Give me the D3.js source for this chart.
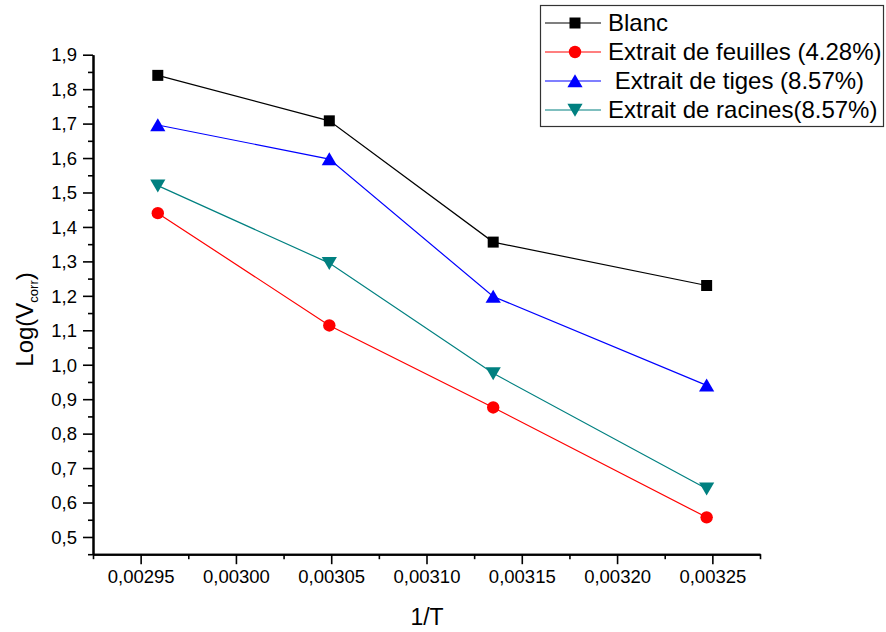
<!DOCTYPE html>
<html>
<head>
<meta charset="utf-8">
<script src="https://cdn.jsdelivr.net/npm/d3@7"></script>
<style>
  html, body { margin: 0; padding: 0; background: #fff; }
  svg { display: block; font-family: "Liberation Sans", Arial, sans-serif; }
  text { white-space: pre; }
</style>
</head>
<body>
<svg id="chart" width="886" height="632"></svg>
<script>
// 1/T values (K^-1)
const invT = [0.002959, 0.003049, 0.003135, 0.003247];

// Log(Vcorr) for each series
const blanc    = [1.840, 1.708, 1.356, 1.230];
const feuilles = [1.440, 1.114, 0.876, 0.557];
const tiges    = [1.696, 1.597, 1.198, 0.940];
const racines  = [1.520, 1.295, 0.975, 0.640];

const seriesNames = ["Blanc", "Extrait de feuilles (4.28%)", " Extrait de tiges (8.57%)", "Extrait de racines(8.57%)"];
const seriesColors = ["#000000", "#ff0000", "#0000ff", "#008080"];
const seriesSymbols = ["square", "circle", "triangleUp", "triangleDown"];
const seriesValues = [blanc, feuilles, tiges, racines];

const xTicks = [0.00295, 0.00300, 0.00305, 0.00310, 0.00315, 0.00320, 0.00325];
const xMinor = [0.002925, 0.002975, 0.003025, 0.003075, 0.003125, 0.003175, 0.003225, 0.003275];
const yTicks = [0.5, 0.6, 0.7, 0.8, 0.9, 1.0, 1.1, 1.2, 1.3, 1.4, 1.5, 1.6, 1.7, 1.8, 1.9];
const yMinor = [0.45, 0.55, 0.65, 0.75, 0.85, 0.95, 1.05, 1.15, 1.25, 1.35, 1.45, 1.55, 1.65, 1.75, 1.85];

const svg = d3.select("#chart");

const x = d3.scaleLinear().domain([0.002925, 0.003275]).range([93, 760]);
const y = d3.scaleLinear().domain([0.45, 1.9]).range([554.2, 54.7]);

const comma = s => s.replace(".", ",");
const fmtX = v => comma(d3.format(".5f")(v));
const fmtY = v => comma(d3.format(".1f")(v));

// Marker shapes, centred on the data point
function markerPath(kind) {
  switch (kind) {
    case "square": return d3.symbol(d3.symbolSquare, 121)();
    case "circle": return d3.symbol(d3.symbolCircle, Math.PI * 6.2 * 6.2)();
    case "triangleUp": return "M0,-6.8L7.6,6.2L-7.6,6.2Z";
    case "triangleDown": return "M0,6.8L7.6,-6.2L-7.6,-6.2Z";
  }
}

// Axes
const gx = svg.append("g").attr("transform", `translate(0,${y(0.45)})`);
gx.call(d3.axisBottom(x).tickValues(xTicks).tickFormat(fmtX).tickSize(10).tickSizeOuter(0).tickPadding(6));
const gxm = svg.append("g").attr("transform", `translate(0,${y(0.45)})`);
gxm.call(d3.axisBottom(x).tickValues(xMinor).tickFormat("").tickSize(5).tickSizeOuter(0));

const gy = svg.append("g").attr("transform", `translate(${x(0.002925)},0)`);
gy.call(d3.axisLeft(y).tickValues(yTicks).tickFormat(fmtY).tickSize(10).tickSizeOuter(0).tickPadding(6));
const gym = svg.append("g").attr("transform", `translate(${x(0.002925)},0)`);
gym.call(d3.axisLeft(y).tickValues(yMinor).tickFormat("").tickSize(5).tickSizeOuter(0));

svg.selectAll(".domain").attr("stroke", "#000").attr("stroke-width", 2);
svg.selectAll(".tick line").attr("stroke", "#000").attr("stroke-width", 1.6);
gx.selectAll(".tick text").attr("font-size", "18.5px").attr("fill", "#000").attr("font-family", "Liberation Sans, Arial, sans-serif");
gy.selectAll(".tick text").attr("font-size", "18.5px").attr("fill", "#000").attr("dy", "0.34em").attr("font-family", "Liberation Sans, Arial, sans-serif");

// Axis titles
svg.append("text")
  .attr("x", 427).attr("y", 625)
  .attr("text-anchor", "middle")
  .attr("font-size", "23px")
  .text("1/T");

const yTitle = svg.append("text")
  .attr("transform", "translate(33,319.5) rotate(-90)")
  .attr("text-anchor", "middle")
  .attr("font-size", "24px");
yTitle.append("tspan").text("Log(V");
yTitle.append("tspan").attr("font-size", "13px").attr("dy", "5").text("corr");
yTitle.append("tspan").attr("dy", "-5").text(")");

// Series lines and markers
const line = d3.line().x((d, i) => x(invT[i])).y(d => y(d));

seriesValues.forEach((vals, s) => {
  svg.append("path")
    .datum(vals)
    .attr("fill", "none")
    .attr("stroke", seriesColors[s])
    .attr("stroke-width", 1.2)
    .attr("d", line);
});
seriesValues.forEach((vals, s) => {
  svg.append("g").selectAll("path")
    .data(vals)
    .join("path")
    .attr("transform", (d, i) => `translate(${x(invT[i])},${y(d)})`)
    .attr("d", markerPath(seriesSymbols[s]))
    .attr("fill", seriesColors[s]);
});

// Legend
const legend = svg.append("g");
legend.append("rect")
  .attr("x", 540.5).attr("y", 5.5)
  .attr("width", 343).attr("height", 121)
  .attr("fill", "#fff")
  .attr("stroke", "#333")
  .attr("stroke-width", 1.2);

seriesNames.forEach((name, s) => {
  const cy = 23 + s * 29;
  legend.append("line")
    .attr("x1", 545).attr("x2", 601)
    .attr("y1", cy).attr("y2", cy)
    .attr("stroke", seriesColors[s])
    .attr("stroke-width", 1.2);
  legend.append("path")
    .attr("transform", `translate(575,${cy})`)
    .attr("d", markerPath(seriesSymbols[s]))
    .attr("fill", seriesColors[s]);
  legend.append("text")
    .attr("x", 608).attr("y", cy + 8)
    .attr("font-size", "24px")
    .attr("fill", "#000")
    .text(name);
});
</script>
</body>
</html>
